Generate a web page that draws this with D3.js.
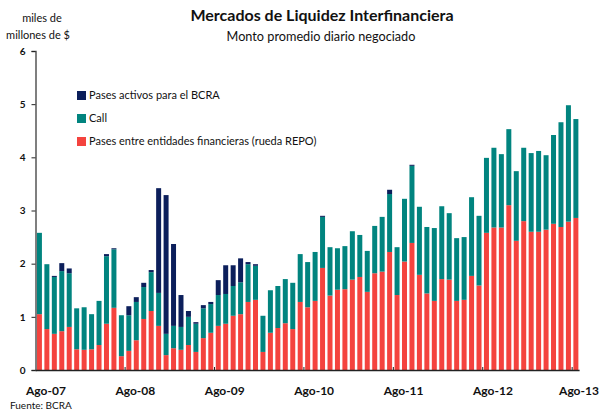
<!DOCTYPE html>
<html>
<head>
<meta charset="utf-8">
<script src="https://cdn.jsdelivr.net/npm/d3@7"></script>
<style>
  body { margin: 0; background: #fff; }
  svg { font-family: Lato, "Open Sans", sans-serif; }
</style>
</head>
<body>
<div class="chart"></div>
<script>
// monthly, Ago-07 .. Ago-13 (miles de millones de $)
const months = d3.range(73).map(i => {
  const d = new Date(2007, 7 + i, 1);
  return d3.timeFormat("%Y-%m")(d);
});
const repo = [1.05,0.77,0.68,0.73,0.81,0.39,0.38,0.39,0.47,0.87,1.17,0.26,0.36,0.56,0.96,1.11,0.83,0.28,0.41,0.38,
  0.47,0.34,0.60,0.70,0.83,0.87,1.02,1.05,1.28,1.32,0.34,0.70,0.79,0.88,0.77,1.28,1.18,1.30,1.92,1.40,
  1.51,1.52,1.70,1.75,1.47,1.82,1.85,2.22,1.41,2.04,2.39,1.79,1.44,1.30,1.71,1.70,1.30,1.32,1.77,1.59,
  2.58,2.68,2.68,3.10,2.43,2.80,2.60,2.60,2.64,2.75,2.69,2.79,2.86];
const call = [1.53,1.22,1.07,1.13,1.01,0.77,0.80,0.66,0.83,1.27,1.10,0.77,0.67,0.72,0.60,0.73,0.62,0.40,0.42,0.43,
  0.53,0.53,0.56,0.54,0.58,0.56,0.56,0.60,0.71,0.64,0.68,0.80,0.79,0.83,0.87,0.90,0.85,0.92,0.96,0.91,
  0.78,0.81,0.91,0.79,0.77,0.89,1.03,1.09,0.90,1.18,1.45,1.28,1.25,1.37,1.37,1.25,1.18,1.18,1.48,1.31,
  1.41,1.50,1.38,1.43,1.31,1.38,1.48,1.52,1.40,1.67,1.97,2.19,1.86];
const pasesBCRA = [0,0,0.02,0.15,0.09,0,0,0,0,0.04,0.02,0,0.17,0.09,0.08,0.04,1.97,2.61,1.54,0.60,
  0.11,0.03,0.06,0.04,0.28,0.54,0.39,0.45,0.04,0.03,0,0,0,0,0,0,0,0,0.02,0,
  0,0,0,0,0,0,0,0.08,0,0,0.02,0,0,0,0,0,0,0,0,0,
  0,0,0,0,0,0,0,0,0,0,0,0,0];
const xLabels = ["Ago-07","Ago-08","Ago-09","Ago-10","Ago-11","Ago-12","Ago-13"];
const yTicks = [0,1,2,3,4,5,6];

const seriesNames = ["repo","call","bcra"];
const legendText = {
  bcra: "Pases activos para el BCRA",
  call: "Call",
  repo: "Pases entre entidades financieras (rueda REPO)"
};
const colors = { repo: "#f4433e", call: "#01847f", bcra: "#0c1f5b" };

const W = 600, H = 412;
const rows = months.map((m, i) => ({ month: m, repo: repo[i], call: call[i], bcra: pasesBCRA[i] }));

const x = d3.scaleBand().domain(months).range([35.7, 579.6]).paddingInner(0.33).paddingOuter(0.165);
const y = d3.scaleLinear().domain([0, 6]).range([370, 51]);

const svg = d3.select(".chart").append("svg").attr("width", W).attr("height", H);

const stacked = d3.stack().keys(seriesNames)(rows);

svg.append("g").selectAll("g")
  .data(stacked)
  .join("g")
  .attr("fill", d => colors[d.key])
  .selectAll("rect")
  .data(d => d)
  .join("rect")
  .attr("x", d => x(d.data.month))
  .attr("width", x.bandwidth())
  .attr("y", d => y(d[1]))
  .attr("height", d => Math.max(0, y(d[0]) - y(d[1])));

// y axis
const yAxis = svg.append("g")
  .attr("transform", "translate(35.5,0)")
  .call(d3.axisLeft(y).tickValues(yTicks).tickSize(4).tickPadding(6).tickFormat(d3.format("d")));
yAxis.select(".domain").attr("stroke", "#555").attr("stroke-width", 1.5);
yAxis.selectAll(".tick line").attr("stroke", "#222");
yAxis.selectAll("text").attr("font-size", 10).attr("font-weight", "bold").attr("fill", "#111")
  .attr("font-family", "Lato, sans-serif");

// x axis: ticks between Jul and Ago, labels near each Ago
const augIdx = d3.range(0, 73, 12);
const xg = svg.append("g");
xg.append("line").attr("x1", 35.7).attr("x2", 579.6).attr("y1", 370.5).attr("y2", 370.5)
  .attr("stroke", "#222").attr("stroke-width", 1.5);
xg.selectAll("line.tk").data(augIdx.slice(1)).join("line").attr("class", "tk")
  .attr("x1", i => x(months[i]) - x.step() * 0.165)
  .attr("x2", i => x(months[i]) - x.step() * 0.165)
  .attr("y1", 367).attr("y2", 371).attr("stroke", "#222");
xg.selectAll("text").data(augIdx).join("text")
  .attr("x", i => Math.min(x(months[i]) + 9, 579))
  .attr("y", 395)
  .attr("text-anchor", "middle")
  .attr("font-size", 12).attr("font-weight", "bold").attr("fill", "#111")
  .text((i, k) => xLabels[k]);

// titles
svg.append("text").attr("x", 322).attr("y", 21).attr("text-anchor", "middle")
  .attr("font-size", 16).attr("font-weight", "bold").attr("fill", "#111")
  .text("Mercados de Liquidez Interfinanciera");
svg.append("text").attr("x", 321).attr("y", 41).attr("text-anchor", "middle")
  .attr("font-size", 12.7).attr("fill", "#111")
  .text("Monto promedio diario negociado");
svg.append("text").attr("x", 42).attr("y", 22).attr("text-anchor", "middle")
  .attr("font-size", 11).attr("fill", "#111").text("miles de");
svg.append("text").attr("x", 38).attr("y", 39).attr("text-anchor", "middle")
  .attr("font-size", 11).attr("fill", "#111").text("millones de $");
svg.append("text").attr("x", 10).attr("y", 409)
  .attr("font-size", 10).attr("fill", "#111").text("Fuente: BCRA");

// legend
const legend = svg.append("g").attr("transform", "translate(77,95)");
const legItems = ["bcra","call","repo"];
const li = legend.selectAll("g").data(legItems).join("g")
  .attr("transform", (d, i) => `translate(0,${i * 23})`);
li.append("rect").attr("x", 0).attr("y", -4).attr("width", 9).attr("height", 9)
  .attr("fill", d => colors[d]);
li.append("text").attr("x", 12).attr("y", 4)
  .attr("font-size", 11).attr("fill", "#111").text(d => legendText[d]);
</script>
</body>
</html>
